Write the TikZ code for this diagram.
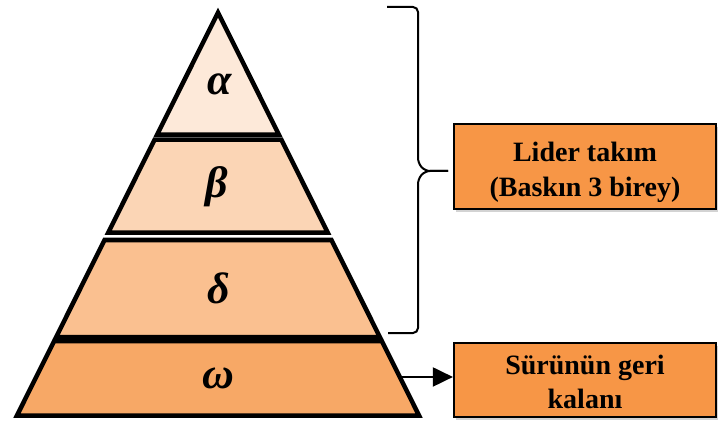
\documentclass[tikz,border=0pt]{standalone}
\usepackage{fontspec}
\setmainfont{Liberation Serif}
\usepackage{xcolor}
\usetikzlibrary{positioning, arrows.meta, calc, shadows}

\definecolor{alphaFill}{HTML}{FDE9D9}
\definecolor{betaFill}{HTML}{FBD5B5}
\definecolor{deltaFill}{HTML}{FAC090}
\definecolor{omegaFill}{HTML}{F7A866}
\definecolor{boxFill}{HTML}{F79646}

\begin{document}
\begin{tikzpicture}[x=1pt, y=-1pt,
    layer/.style={draw=black, line width=4.5pt, line join=miter},
    greek/.style={font=\bfseries\itshape\fontsize{44}{44}\selectfont, inner sep=0pt},
    teambox/.style={draw=black, line width=2.2pt, fill=boxFill, minimum width=262pt,
      align=center, inner sep=0pt, font=\bfseries\fontsize{28}{34.5}\selectfont,
      drop shadow={shadow xshift=1.5pt, shadow yshift=-3pt, opacity=0.35}},
    braceline/.style={line width=2pt, rounded corners=5pt}]
  \useasboundingbox (0,0) rectangle (718,425);

  % pyramid
  \coordinate (apex) at (218,12.6);
  \coordinate (bl) at (17,415.5);
  \coordinate (br) at (419,415.5);
  \filldraw[layer, fill=alphaFill] (apex) -- ($(apex)!0.3026!(br)$) -- ($(apex)!0.3026!(bl)$) -- cycle;
  \foreach \ta/\tb/\col in {0.3150/0.5458/betaFill, 0.5644/0.8052/deltaFill, 0.8151/1/omegaFill}
    \filldraw[layer, fill=\col] ($(apex)!\ta!(bl)$) -- ($(apex)!\ta!(br)$)
      -- ($(apex)!\tb!(br)$) -- ($(apex)!\tb!(bl)$) -- cycle;

  \node[greek] (alpha) at (220,84) {α};
  \node[greek] (beta)  at (217,187) {β};
  \node[greek] (delta) at (219,288) {δ};
  \node[greek] (omega) at (218,378) {ω};

  % boxes
  \node[teambox, minimum height=85pt] (leader) at (585,166.5) {\rule{0pt}{31pt}Lider takım\\(Baskın 3 birey)};
  \node[teambox, minimum height=74pt] (rest) at (585,380) {\rule{0pt}{23pt}Sürünün geri\\kalanı};

  % brace
  \coordinate (braceTop) at (387,7);
  \coordinate (braceBot) at (388,333);
  \coordinate (braceTip) at (448,171);
  \draw[braceline] (braceTop) -- ++(31,0) -- ++(0,156) -- ++(7,8) -- (braceTip);
  \draw[braceline] (braceBot) -- ++(30,0) -- ++(0,-154) -- ++(7,-8) -- (braceTip);

  % arrow
  \coordinate (omegaR) at ($(apex)!0.9044!(br)$);
  \draw[line width=2pt, -{Triangle[length=20pt, width=19pt]}] (omegaR) -- (omegaR -| rest.west);
\end{tikzpicture}
\end{document}
